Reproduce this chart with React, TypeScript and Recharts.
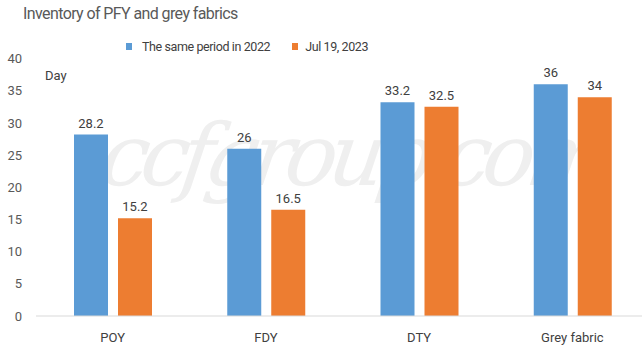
import React from 'react';
import { BarChart, Bar, XAxis, YAxis, Legend, LabelList } from 'recharts';

const categories = ['POY', 'FDY', 'DTY', 'Grey fabric'];
const samePeriod2022 = [28.2, 26, 33.2, 36];
const jul192023 = [15.2, 16.5, 32.5, 34];
const yTicks = [0, 5, 10, 15, 20, 25, 30, 35, 40];
const seriesNames = ['The same period in 2022', 'Jul 19, 2023'];
const titleText = 'Inventory of PFY and grey fabrics';
const unitText = 'Day';
const watermarkText = 'ccfgroup.com';

const data = categories.map((c, i) => ({ name: c, a: samePeriod2022[i], b: jul192023[i] }));

const FONT = 'Roboto, "Open Sans", sans-serif';

const renderLegend = (props: any) => {
  const payload = [...(props.payload || [])].sort(
    (x: any, y: any) => seriesNames.indexOf(x.value) - seriesNames.indexOf(y.value)
  );
  return (
    <div style={{ display: 'flex', alignItems: 'center', height: 16, fontFamily: FONT, fontSize: 12.5, letterSpacing: -0.4, color: '#404040', whiteSpace: 'nowrap' }}>
      {payload.map((p: any, i: number) => (
        <div key={i} style={{ display: 'flex', alignItems: 'center', marginRight: i === 0 ? 22 : 0 }}>
          <span style={{ display: 'inline-block', width: 6, height: 7, background: p.color, marginRight: i === 0 ? 10 : 7 }} />
          <span>{p.value}</span>
        </div>
      ))}
    </div>
  );
};

export default function App() {
  return (
    <div style={{ position: 'absolute', left: 0, top: 0, width: 642, height: 360, overflow: 'hidden', background: '#fff' }}>
      <div
        style={{
          position: 'absolute',
          left: 96,
          top: 112,
          fontFamily: '"DejaVu Serif", "Liberation Serif", serif',
          fontStyle: 'italic',
          fontSize: 86,
          letterSpacing: -8,
          color: '#efefef',
          whiteSpace: 'nowrap',
          lineHeight: 1,
          transform: 'skewX(-8deg)',
          transformOrigin: 'left bottom',
        }}
      >
        {watermarkText}
      </div>
      <div
        style={{
          position: 'absolute',
          left: 23,
          top: 4,
          fontFamily: FONT,
          fontSize: 16,
          letterSpacing: -0.6,
          color: '#595959',
          whiteSpace: 'nowrap',
        }}
      >
        {titleText}
      </div>
      <div
        style={{
          position: 'absolute',
          left: 45,
          top: 68,
          fontFamily: FONT,
          fontSize: 13,
          color: '#404040',
        }}
      >
        {unitText}
      </div>
      <div style={{ position: 'absolute', left: 0, top: 0 }}>
        <BarChart
          width={680}
          height={360}
          data={data}
          margin={{ top: 42.6, right: 31, bottom: 0, left: 0 }}
          barGap={10}
          barCategoryGap={37.6}
        >
          <XAxis
            dataKey="name"
            height={44}
            tickLine={false}
            tickSize={0}
            tickMargin={17}
            axisLine={{ stroke: '#d9d9d9' }}
            tick={{ fill: '#404040', fontSize: 13, fontFamily: FONT }}
            interval={0}
          />
          <YAxis
            width={36}
            domain={[0, 40]}
            ticks={yTicks}
            axisLine={false}
            tickLine={false}
            tickSize={0}
            tickMargin={14}
            tick={{ fill: '#595959', fontSize: 13, fontFamily: FONT }}
          />
          <Legend
            verticalAlign="top"
            align="left"
            content={renderLegend}
            wrapperStyle={{ position: 'absolute', top: 38, left: 126, width: 'auto', height: 16 }}
          />
          <Bar dataKey="a" name={seriesNames[0]} fill="#5B9BD5" barSize={34} isAnimationActive={false}>
            <LabelList dataKey="a" position="top" offset={7} fill="#404040" fontSize={13} fontFamily={FONT} />
          </Bar>
          <Bar dataKey="b" name={seriesNames[1]} fill="#ED7D31" barSize={34} isAnimationActive={false}>
            <LabelList dataKey="b" position="top" offset={7} fill="#404040" fontSize={13} fontFamily={FONT} />
          </Bar>
        </BarChart>
      </div>
    </div>
  );
}
